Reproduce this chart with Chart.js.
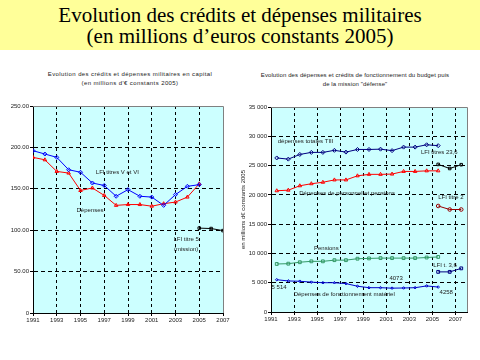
<!DOCTYPE html>
<html>
    <head>
        <meta charset="utf-8">
        <script src="https://cdn.jsdelivr.net/npm/chart.js@4.4.0/dist/chart.umd.min.js"></script>
        <style>
            body { margin: 0; width: 480px; height: 360px; background: #fff; position: relative; overflow: hidden; }
            #header { position: absolute; left: 0; top: 0; width: 480px; height: 50px; background: #FFFF99;
                      font-family: "Liberation Serif", serif; font-size: 21px; line-height: 21px; text-align: center; padding-top: 5px; box-sizing: border-box; }
            .ctitle { position: absolute; font-family: "Liberation Sans", sans-serif; font-size: 6px; line-height: 9px; text-align: center; color: #222; }
            .box { position: absolute; top: 100px; width: 240px; height: 240px; }
        </style>
    </head>
    <body>
        <div id="header">Evolution des crédits et dépenses militaires<br>(en millions d’euros constants 2005)</div>
        <div class="ctitle" style="left:10px; top:70px; width:240px; letter-spacing:0.4px;">Evolution des crédits et dépenses militaires en capital<br>(en millions d'€ constants 2005)</div>
        <div class="ctitle" style="left:240px; top:71px; width:230px; letter-spacing:0.1px;">Evolution des dépenses et crédits de fonctionnement du budget puis<br>de la mission "défense"</div>
        <div class="box" style="left:0px;"><canvas id="leftChart" width="240" height="240"></canvas></div>
        <div class="box" style="left:240px;"><canvas id="rightChart" width="240" height="240"></canvas></div>

        <script>
            // DATA - left chart (capital)
            const yearsL = [1991, 1992, 1993, 1994, 1995, 1996, 1997, 1998, 1999, 2000, 2001, 2002, 2003, 2004, 2005];
            const lfiCapital = [196, 192, 188, 173, 170, 157, 154, 141, 149, 141, 140, 130, 143, 153, 155];
            const depCapital = [188, 185, 171, 169, 148, 151, 142, 130, 131, 131, 129, 132, 134, 140, 156];
            const lfiYearsL = [2005, 2006, 2007];
            const lfiTitre5 = [102.5, 102, 99.5];

            // DATA - right chart (fonctionnement)
            const yearsR = [1991, 1992, 1993, 1994, 1995, 1996, 1997, 1998, 1999, 2000, 2001, 2002, 2003, 2004, 2005];
            const totalT3 = [26300, 26100, 26900, 27250, 27250, 27600, 27300, 27750, 27750, 27800, 27550, 28150, 28150, 28550, 28400];
            const personnel = [20700, 20800, 21550, 21900, 22150, 22550, 22550, 23250, 23500, 23500, 23550, 24000, 24000, 24100, 24100];
            const pensions = [8200, 8250, 8500, 8650, 8650, 8850, 8850, 9100, 9150, 9200, 9200, 9200, 9200, 9300, 9400];
            const fonctionnement = [5514, 5300, 5250, 5100, 5000, 5000, 4850, 4400, 4150, 4150, 4073, 4100, 4150, 4450, 4258];
            const lfiYearsR = [2005, 2006, 2007];
            const lfiT236 = [25200, 24500, 25150];
            const lfiT2 = [18100, 17500, 17500];
            const lfiT36 = [6850, 6850, 7450];

            // tick labels
            const tickYears = [1991, 1993, 1995, 1997, 1999, 2001, 2003, 2005, 2007];

            // text notes, in data units
            const notesL = [
                { text: 'LFI titres V et VI', x: 1998.1, y: 170 },
                { text: 'Dépenses', x: 1995.8, y: 124 },
                { text: 'LFI titre 5', x: 2003.9, y: 89 },
                { text: '(mission)', x: 2003.9, y: 77 }
            ];
            const notesR = [
                { text: 'dépenses totales TIII', x: 1994.0, y: 29200 },
                { text: 'LFI titres 23,6', x: 2005.6, y: 27300 },
                { text: 'Dépenses de personnel et pensions', x: 1997.6, y: 20300 },
                { text: 'LFI titre 2', x: 2006.6, y: 19580 },
                { text: 'Pensions', x: 1995.8, y: 10820 },
                { text: 'LFI t. 3,6', x: 2006.1, y: 7970 },
                { text: '4073', x: 2001.85, y: 5800 },
                { text: '5 514', x: 1991.7, y: 4270 },
                { text: 'Dépenses de fonctionnement matériel', x: 1997.35, y: 3020 },
                { text: '4258', x: 2006.2, y: 3420 }
            ];

            // right chart points sit in the middle of each year
            const mid = 0.5;
            const pts = (xs, ys, off) => xs.map((x, i) => ({ x: x + off, y: ys[i] }));

            const tickFont = { family: 'Liberation Sans', size: 6 };
            const clear = 'rgba(0,0,0,0)';

            // PLUGINS
            const plotArea = {
                id: 'plotArea',
                beforeDraw(chart) {
                    const a = chart.chartArea, c = chart.ctx;
                    c.save();
                    c.fillStyle = '#CCFFFF';
                    c.fillRect(a.left, a.top, a.right - a.left, a.bottom - a.top);
                    c.restore();
                },
                afterDraw(chart) {
                    const a = chart.chartArea, c = chart.ctx;
                    c.save();
                    c.strokeStyle = '#808080';
                    c.lineWidth = 1;
                    c.beginPath();
                    c.moveTo(a.left, a.top + 0.5);
                    c.lineTo(a.right + 0.5, a.top + 0.5);
                    c.lineTo(a.right + 0.5, a.bottom);
                    c.stroke();
                    c.restore();
                }
            };

            const notes = {
                id: 'notes',
                afterDatasetsDraw(chart, args, opts) {
                    const c = chart.ctx, sx = chart.scales.x, sy = chart.scales.y;
                    c.save();
                    c.font = '6px "Liberation Sans"';
                    c.fillStyle = '#222';
                    c.textAlign = 'center';
                    c.textBaseline = 'middle';
                    (opts.items || []).forEach(n => {
                        c.fillText(n.text, sx.getPixelForValue(n.x), sy.getPixelForValue(n.y));
                    });
                    c.restore();
                }
            };

            function lineSet(label, data, color, style, radius) {
                return {
                    label: label,
                    data: data,
                    borderColor: color,
                    borderWidth: 1,
                    pointStyle: style,
                    pointRadius: radius,
                    pointBorderColor: color,
                    pointBackgroundColor: clear,
                    pointBorderWidth: 1,
                    tension: 0
                };
            }

            function xScale(max, fixedHeight, hideAt) {
                return {
                    type: 'linear',
                    min: 1991,
                    max: max,
                    afterBuildTicks: s => { s.ticks = tickYears.map(v => ({ value: v })); },
                    afterFit: s => { s.height = fixedHeight; },
                    ticks: { font: tickFont, color: '#222', padding: 1, maxRotation: 0, autoSkip: false, callback: v => String(v) },
                    grid: { color: ctx => (ctx.tick && hideAt.includes(ctx.tick.value)) ? clear : '#000', tickColor: '#000', tickLength: 3 },
                    border: { color: '#000', dash: [3, 3] }
                };
            }

            // LEFT CHART
            new Chart(document.getElementById('leftChart'), {
                type: 'line',
                data: {
                    datasets: [
                        lineSet('LFI titres V et VI', pts(yearsL, lfiCapital, 0), '#0000FF', 'rectRot', 2),
                        lineSet('Dépenses', pts(yearsL, depCapital, 0), '#FF0000', 'triangle', 2),
                        lineSet('LFI titre 5 (mission)', pts(lfiYearsL, lfiTitre5, 0), '#000000', 'rect', 1.8)
                    ]
                },
                options: {
                    responsive: false,
                    animation: false,
                    layout: { padding: { top: 6, right: 17, left: 0, bottom: 0 } },
                    plugins: { legend: { display: false }, tooltip: { enabled: false }, notes: { items: notesL } },
                    scales: {
                        x: xScale(2007, 27, [1991, 2007]),
                        y: {
                            min: 0, max: 250,
                            afterFit: s => { s.width = 33; },
                            ticks: { stepSize: 50, font: tickFont, color: '#222', padding: 1, callback: v => v === 0 ? '0' : v.toFixed(2) },
                            grid: { color: ctx => (ctx.tick && (ctx.tick.value === 250 || ctx.tick.value === 0)) ? clear : '#000', tickColor: '#000', tickLength: 3 },
                            border: { color: '#000', dash: [4, 3] }
                        }
                    }
                },
                plugins: [plotArea, notes]
            });

            // RIGHT CHART
            new Chart(document.getElementById('rightChart'), {
                type: 'line',
                data: {
                    datasets: [
                        lineSet('dépenses totales TIII', pts(yearsR, totalT3, mid), '#000080', 'rectRot', 2),
                        lineSet('Dépenses de personnel et pensions', pts(yearsR, personnel, mid), '#FF0000', 'triangle', 2),
                        lineSet('Pensions', pts(yearsR, pensions, mid), '#339966', 'rect', 2),
                        lineSet('Dépenses de fonctionnement matériel', pts(yearsR, fonctionnement, mid), '#0000CC', 'rectRot', 1.3),
                        lineSet('LFI titres 23,6', pts(lfiYearsR, lfiT236, mid), '#000000', 'rect', 1.8),
                        lineSet('LFI titre 2', pts(lfiYearsR, lfiT2, mid), '#990000', 'circle', 1.8),
                        lineSet('LFI t. 3,6', pts(lfiYearsR, lfiT36, mid), '#000080', 'rect', 2)
                    ]
                },
                options: {
                    responsive: false,
                    animation: false,
                    layout: { padding: { top: 7, right: 13, left: 0, bottom: 0 } },
                    plugins: { legend: { display: false }, tooltip: { enabled: false }, notes: { items: notesR } },
                    scales: {
                        x: xScale(2008, 28, [1991]),
                        y: {
                            min: 0, max: 35000,
                            afterFit: s => { s.width = 31; },
                            title: { display: true, text: 'en millions d€ constants 2005', font: tickFont, color: '#222', padding: 0 },
                            ticks: { stepSize: 5000, font: tickFont, color: '#222', padding: 1, callback: v => v === 0 ? '0' : (v / 1000) + ' 000' },
                            grid: { color: ctx => (ctx.tick && (ctx.tick.value === 35000 || ctx.tick.value === 0)) ? clear : '#000', tickColor: '#000', tickLength: 3 },
                            border: { color: '#000', dash: [4, 3] }
                        }
                    }
                },
                plugins: [plotArea, notes]
            });
        </script>
    </body>
</html>
